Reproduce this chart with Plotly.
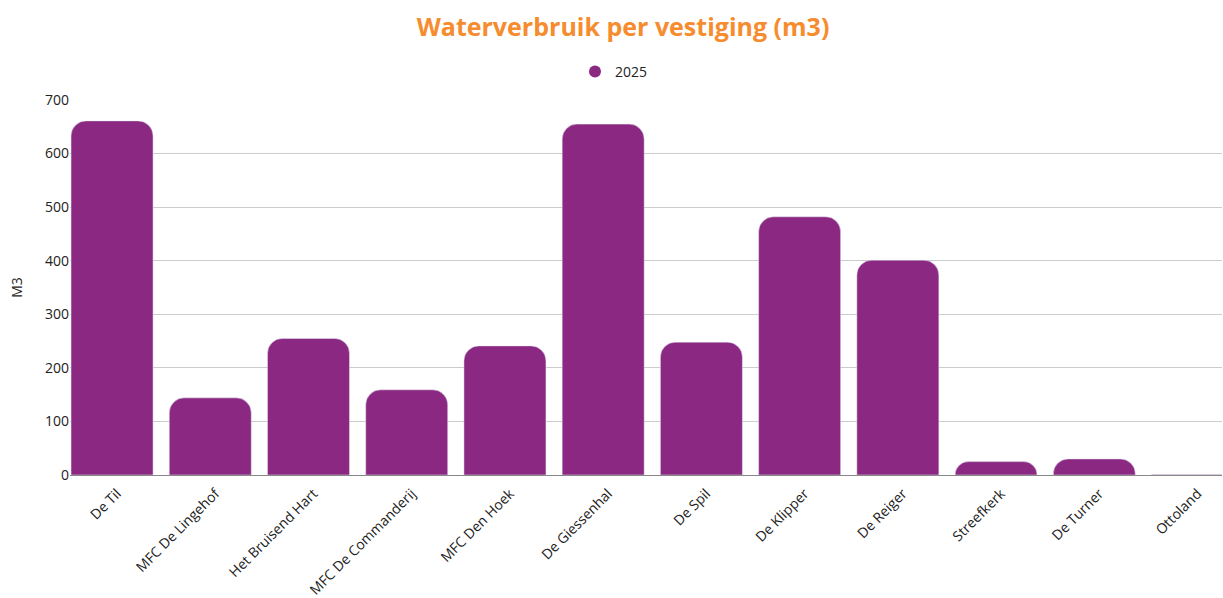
import plotly.graph_objects as go

categories = ["De Til", "MFC De Lingehof", "Het Bruisend Hart", "MFC De Commanderij",
              "MFC Den Hoek", "De Giessenhal", "De Spil", "De Klipper", "De Reiger",
              "Streefkerk", "De Turner", "Ottoland"]
values_2025 = [661, 144, 255, 159, 241, 655, 248, 482, 401, 25, 30, 1]
series_name = "2025"
y_ticks = [0, 100, 200, 300, 400, 500, 600, 700]

bar_color = "#8B2882"
font_family = "Open Sans, Noto Sans, sans-serif"

fig = go.Figure()
fig.add_trace(go.Bar(x=categories, y=values_2025, name=series_name,
                     marker=dict(color=bar_color), showlegend=False,
                     hovertemplate="%{x}: %{y}<extra></extra>"))
fig.add_trace(go.Scatter(x=[None], y=[None], mode="markers", name=series_name,
                         marker=dict(symbol="circle", size=14, color=bar_color),
                         showlegend=True))

fig.update_layout(
    width=1223, height=598,
    margin=dict(l=70, r=1, t=100, b=123),
    paper_bgcolor="white", plot_bgcolor="white",
    font=dict(family=font_family, size=14, color="#222222"),
    title=dict(text="<b>Waterverbruik per vestiging (m3)</b>", x=623 / 1223, xanchor="center",
               xref="container", y=1 - 27 / 598, yanchor="middle", yref="container",
               font=dict(size=25, color="#F68C2E", family=font_family)),
    legend=dict(orientation="h", x=614 / 1223, xanchor="center", xref="container",
                y=1 - 72 / 598, yanchor="middle",
                yref="container", font=dict(size=14), itemsizing="constant",
                itemwidth=30),
    bargap=0.165,
    barcornerradius=15,
    xaxis=dict(tickangle=-45, showgrid=False, showline=True, linecolor="#888888",
               linewidth=1, tickfont=dict(size=14), ticks="", automargin=False,
               range=[-0.428, 11.30], ticklabelshift=5, ticklabelstandoff=4),
    yaxis=dict(range=[0, 700], tickvals=y_ticks, showgrid=True, gridcolor="#cccccc",
               zeroline=False, tickfont=dict(size=14), automargin=False,
               title=dict(text="M3", font=dict(size=14), standoff=19)),
)

fig.write_html("out.html", config={"displayModeBar": False},
               post_script="document.body.style.margin='0';document.body.style.overflow='hidden';")
